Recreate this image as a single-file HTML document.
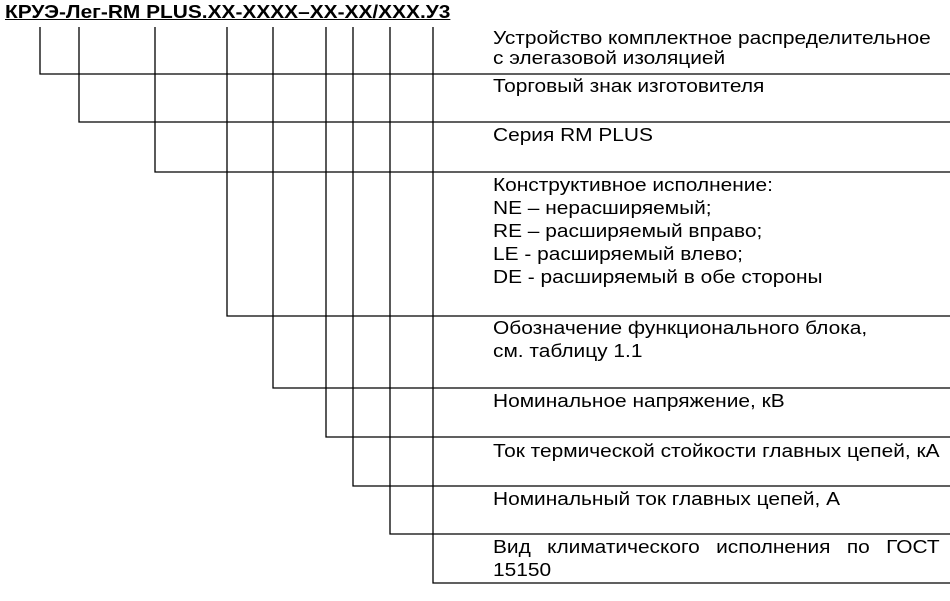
<!DOCTYPE html>
<html><head><meta charset="utf-8"><style>
body{margin:0;background:#fff;width:950px;height:601px;position:relative;overflow:hidden;font-family:"Liberation Sans",Arial,sans-serif;color:#000}
.t{position:absolute;left:493px;font-size:18px;line-height:23px;white-space:nowrap;transform:scaleX(1.16);transform-origin:0 0}
#title{position:absolute;left:5px;top:2px;font-size:18px;font-weight:bold;text-decoration:underline;white-space:nowrap;transform:scaleX(1.16);transform-origin:0 0}
svg{position:absolute;left:0;top:0}
</style></head><body>
<div id="title">КРУЭ-Лег-RM PLUS.XX-XXXX–XX-XX/XXX.У3</div>
<svg width="950" height="601" stroke="#000" stroke-width="1.3" fill="none">
<path d="M40 27V74H950"/>
<path d="M79 27V122H950"/>
<path d="M155 27V172H950"/>
<path d="M227 27V316H950"/>
<path d="M273 27V388H950"/>
<path d="M326 27V437H950"/>
<path d="M353 27V486H950"/>
<path d="M390 27V534H950"/>
<path d="M433 27V583H950"/>
</svg>
<div class="t" style="top:28px;line-height:20px">Устройство комплектное распределительное<br>с элегазовой изоляцией</div>
<div class="t" style="top:75px">Торговый знак изготовителя</div>
<div class="t" style="top:124px">Серия RM PLUS</div>
<div class="t" style="top:174px">Конструктивное исполнение:<br>NE – нерасширяемый;<br>RE – расширяемый вправо;<br>LE - расширяемый влево;<br>DE - расширяемый в обе стороны</div>
<div class="t" style="top:317px">Обозначение функционального блока,<br>см. таблицу 1.1</div>
<div class="t" style="top:390px">Номинальное напряжение, кВ</div>
<div class="t" style="top:440px">Ток термической стойкости главных цепей, кА</div>
<div class="t" style="top:488px">Номинальный ток главных цепей, А</div>
<div class="t" style="top:536px;width:385px;white-space:normal;text-align:justify;text-align-last:left">Вид климатического исполнения по ГОСТ 15150</div>
</body></html>
